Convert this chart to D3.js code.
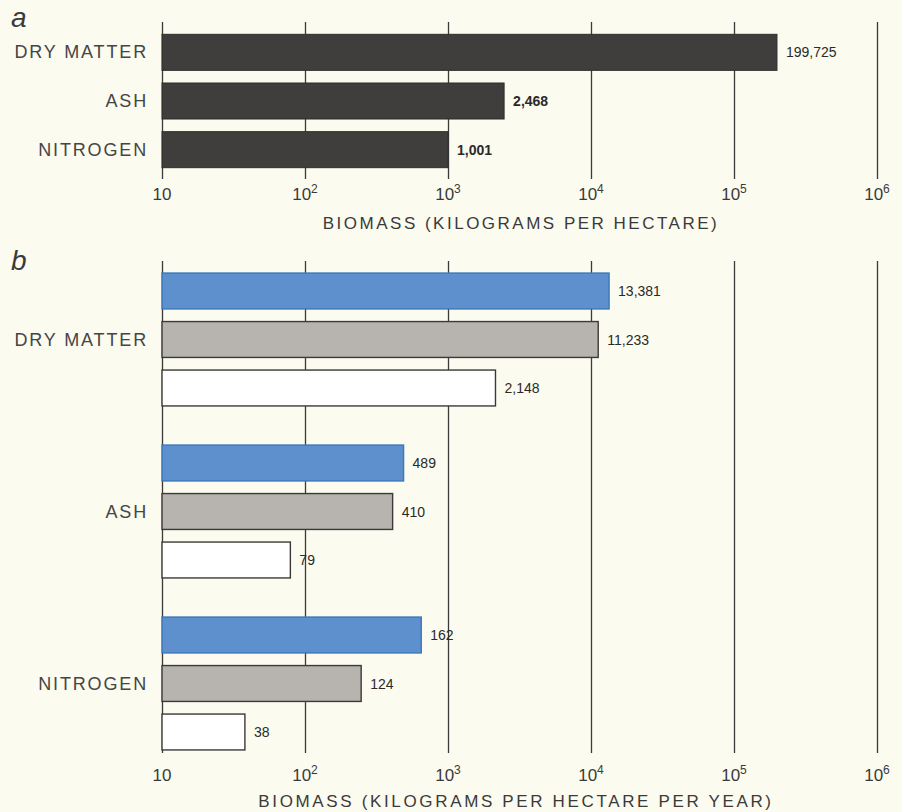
<!DOCTYPE html>
<meta charset="utf-8">
<title>Biomass</title>
<style>
  body {
    margin: 0;
    padding: 0;
    overflow: hidden;
    background-color: #fcfbef;
  }

  svg {
    display: block;
    font-family: "Liberation Sans", Arial, sans-serif;
  }

  .grid line {
    stroke: #3b3a38;
    stroke-width: 1.3;
  }

  .cat {
    font-size: 18px;
    fill: #454545;
    letter-spacing: 1.85px;
  }

  .tick-label {
    font-size: 17px;
    fill: #3a3a3a;
  }

  .title {
    font-size: 17px;
    fill: #3a3a3a;
    letter-spacing: 2.5px;
  }

  .val {
    font-size: 14px;
    fill: #2a2a2a;
  }

  .panel-letter {
    font-size: 28px;
    font-style: italic;
    fill: #3a3a3a;
  }
</style>

<body>
  <script src="https://cdn.jsdelivr.net/npm/d3@7"></script>
  <script>
    // data
    var categories = ["DRY MATTER", "ASH", "NITROGEN"];
    var tickValues = [10, 1e2, 1e3, 1e4, 1e5, 1e6];

    // panel a: standing biomass
    var biomassA = [199725, 2468, 1001];
    var labelsA = ["199,725", "2,468", "1,001"];

    // panel b: three series per category
    var seriesB = ["blue", "gray", "white"];
    var dryMatterB = [13381, 11233, 2148];
    var ashB = [489, 410, 79];
    // nitrogen bars in the print are longer than their printed numbers, lengths as drawn
    var nitrogenB = [650, 247, 38];
    var labelsB = [["13,381", "11,233", "2,148"], ["489", "410", "79"], ["162", "124", "38"]];

    var fills = { blue: "#5d90cc", gray: "#b7b4af", white: "#ffffff" };
    var strokes = { blue: "#3a78bd", gray: "#3b3a38", white: "#3b3a38" };

    var width = 902,
      height = 812;

    var svg = d3.select("body").append("svg")
      .attr("width", width)
      .attr("height", height);

    var x = d3.scaleLog().domain([10, 1e6]).range([162, 877]);

    function drawGrid(top, bottom) {
      var g = svg.append("g").attr("class", "grid")
        .attr("transform", "translate(0," + top + ")")
        .call(d3.axisBottom(x).tickValues(tickValues).tickSize(bottom - top).tickFormat(() => ""));
      g.select(".domain").remove();
    }

    function drawTickLabels(y) {
      var t = svg.append("g").selectAll("text").data(tickValues)
        .enter().append("text")
        .attr("class", "tick-label")
        .attr("x", d => x(d))
        .attr("y", y)
        .attr("text-anchor", "middle");
      t.append("tspan").text("10");
      t.filter(d => d > 10).append("tspan")
        .attr("dy", -7)
        .attr("font-size", 12)
        .text(d => Math.round(Math.log10(d)));
    }

    // ---- panel a
    svg.append("text").attr("class", "panel-letter").attr("x", 11).attr("y", 27).text("a");

    drawGrid(22, 179);

    var yA = d3.scaleBand().domain(categories).range([28, 174]).paddingInner(0.26).paddingOuter(0.13);

    svg.append("g").selectAll("rect").data(biomassA)
      .enter().append("rect")
      .attr("x", x(10))
      .attr("y", (d, i) => yA(categories[i]))
      .attr("width", d => x(d) - x(10))
      .attr("height", yA.bandwidth())
      .attr("fill", "#403e3c")
      .attr("stroke", "#2e2d2b")
      .attr("stroke-width", 1);

    svg.append("g").selectAll("text").data(biomassA)
      .enter().append("text")
      .attr("class", "val")
      .attr("x", d => x(d) + 9)
      .attr("y", (d, i) => yA(categories[i]) + yA.bandwidth() / 2 + 5)
      .attr("font-weight", (d, i) => i > 0 ? "bold" : "normal")
      .text((d, i) => labelsA[i]);

    svg.append("g").selectAll("text").data(categories)
      .enter().append("text")
      .attr("class", "cat")
      .attr("x", 148)
      .attr("y", d => yA(d) + yA.bandwidth() / 2 + 6)
      .attr("text-anchor", "end")
      .text(d => d);

    drawTickLabels(200);

    svg.append("text").attr("class", "title")
      .attr("x", 521).attr("y", 229)
      .attr("text-anchor", "middle")
      .text("BIOMASS (KILOGRAMS PER HECTARE)");

    // ---- panel b
    svg.append("text").attr("class", "panel-letter").attr("x", 11).attr("y", 270).text("b");

    drawGrid(261, 753);

    var yB = d3.scaleBand().domain(categories).range([253.5, 769.5]);
    var yS = d3.scaleBand().domain(seriesB).range([13.25, 158.75]).paddingInner(0.26).paddingOuter(0.13);

    var rowsB = [dryMatterB, ashB, nitrogenB];

    var groups = svg.append("g").selectAll("g").data(rowsB)
      .enter().append("g")
      .attr("transform", (d, i) => "translate(0," + yB(categories[i]) + ")");

    groups.selectAll("rect").data(d => d)
      .enter().append("rect")
      .attr("x", x(10))
      .attr("y", (d, j) => yS(seriesB[j]))
      .attr("width", d => x(d) - x(10))
      .attr("height", yS.bandwidth())
      .attr("fill", (d, j) => fills[seriesB[j]])
      .attr("stroke", (d, j) => strokes[seriesB[j]])
      .attr("stroke-width", 1.4);

    groups.each(function (row, i) {
      d3.select(this).selectAll("text").data(row)
        .enter().append("text")
        .attr("class", "val")
        .attr("x", d => x(d) + 9)
        .attr("y", (d, j) => yS(seriesB[j]) + yS.bandwidth() / 2 + 5)
        .text((d, j) => labelsB[i][j]);
    });

    svg.append("g").selectAll("text").data(categories)
      .enter().append("text")
      .attr("class", "cat")
      .attr("x", 148)
      .attr("y", d => yB(d) + yB.bandwidth() / 2 + 6)
      .attr("text-anchor", "end")
      .text(d => d);

    drawTickLabels(781);

    svg.append("text").attr("class", "title")
      .attr("x", 516).attr("y", 807)
      .attr("text-anchor", "middle")
      .style("letter-spacing", "2.65px")
      .text("BIOMASS (KILOGRAMS PER HECTARE PER YEAR)");
  </script>
